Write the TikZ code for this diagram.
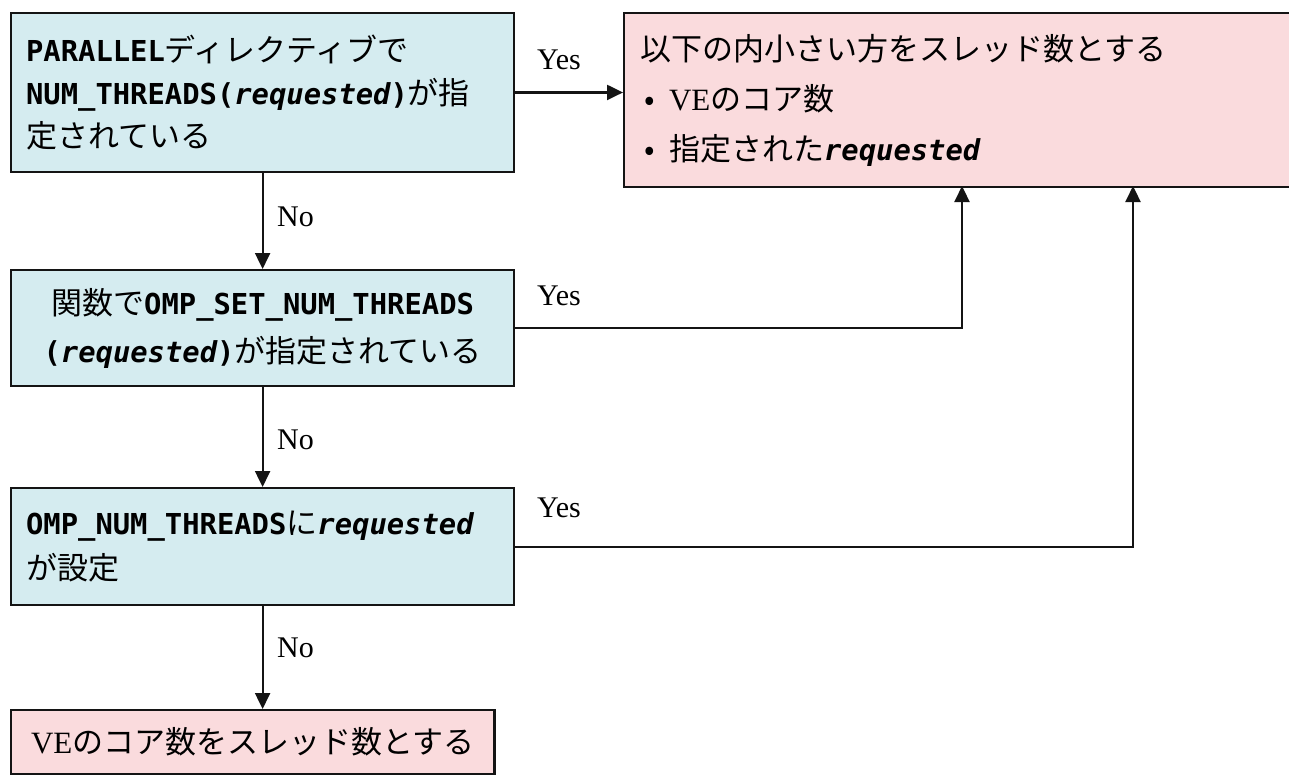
\documentclass[tikz,border=0pt]{standalone}
\usepackage{fontspec}
\setmainfont{Liberation Serif}
\newfontfamily\jp{Noto Sans CJK JP}
\newfontfamily\monof{DejaVu Sans Mono}[Scale=0.93]
\usetikzlibrary{arrows.meta,calc}
\newcommand\codetxt[1]{{\monof\bfseries #1}}
\newcommand\reqd{{\monof\bfseries\itshape requested}}
\definecolor{boxblue}{RGB}{213,236,240}
\definecolor{boxpink}{RGB}{250,219,221}
\definecolor{edge}{RGB}{20,20,20}
\tikzset{
  box/.style={draw=edge, line width=2.2pt, anchor=north west, inner xsep=15pt, inner ysep=0pt,
    font=\jp\fontsize{31}{43}\selectfont},
  bluebox/.style={box, fill=boxblue},
  pinkbox/.style={box, fill=boxpink},
  arr/.style={draw=edge, line width=2.2pt, -{Triangle[length=16pt,width=15pt]}},
  lbl/.style={font=\rmfamily\fontsize{30}{30}\selectfont, anchor=west, inner sep=0pt}
}
\begin{document}
\begin{tikzpicture}[x=1pt,y=-1pt]
\useasboundingbox (0,0) rectangle (1289,779);
\fill[white] (0,0) rectangle (1289,779);
% boxes
\node[bluebox, minimum width=503pt, minimum height=158.7pt, text width=473pt, align=left] (A) at (10,12)
  {\codetxt{PARALLEL}ディレクティブで\\\codetxt{NUM\_THREADS(}\reqd\codetxt{)}が指\\定されている};
\node[pinkbox, minimum width=672pt, minimum height=174pt, text width=640pt, inner xsep=16pt, align=left,
  font=\jp\fontsize{31}{50}\selectfont] (R) at (623,12)
  {以下の内小さい方をスレッド数とする\\\hspace*{4pt}\makebox[25pt][l]{•}{\rmfamily VE}のコア数\\\hspace*{4pt}\makebox[25pt][l]{•}指定された\reqd};
\node[bluebox, minimum width=503pt, minimum height=116pt, text width=473pt, align=center,
  font=\jp\fontsize{31}{48}\selectfont] (B) at (10,269)
  {関数で\codetxt{OMP\_SET\_NUM\_THREADS}\\\codetxt{(}\reqd\codetxt{)}が指定されている};
\node[bluebox, minimum width=503pt, minimum height=117pt, text width=473pt, align=left,
  font=\jp\fontsize{31}{45}\selectfont] (C) at (10,487)
  {\codetxt{OMP\_NUM\_THREADS}に\reqd\\が設定};
\node[pinkbox, minimum height=64pt, inner xsep=20pt] (D) at (10,709)
  {{\rmfamily VE}のコア数をスレッド数とする};
% connectors
\coordinate (rb1) at (962,186);
\coordinate (rb2) at (1133,186);
\draw[arr] (A.east) -- (A.east -| R.west);
\draw[arr] (A.south) -- (B.north);
\draw[arr] (B.south) -- (C.north);
\draw[arr] (C.south) -- (C.south |- D.north);
\draw[arr] (B.east) -| (rb1);
\draw[arr] (C.east) -| (rb2);
% labels
\node[lbl] (y1) at (537,60) {Yes};
\node[lbl] (y2) at (537,296) {Yes};
\node[lbl] (y3) at (537,508) {Yes};
\node[lbl] (n1) at (277,217) {No};
\node[lbl] (n2) at (277,440) {No};
\node[lbl] (n3) at (277,648) {No};
\end{tikzpicture}
\end{document}
